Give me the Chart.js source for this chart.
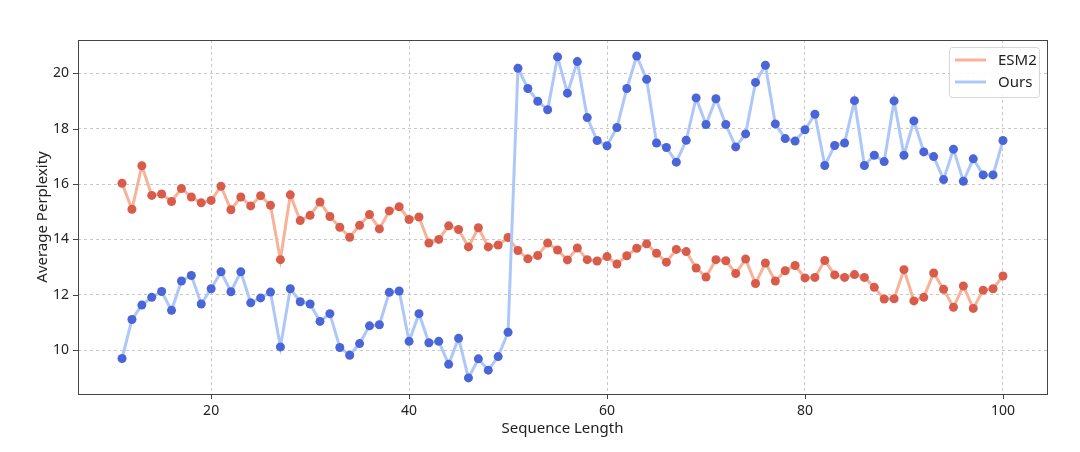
<!DOCTYPE html>
<html>
<head>
<meta charset="utf-8">
<script src="https://cdn.jsdelivr.net/npm/chart.js@4/dist/chart.umd.min.js"></script>
<style>
  html, body { margin: 0; padding: 0; background: #fff; }
  #wrap { width: 1080px; height: 452px; }
</style>
</head>
<body>
<div id="wrap"><canvas id="ppl"></canvas></div>
<script>
// sequence lengths 11..100
const seqLengths = [
  11, 12, 13, 14, 15, 16, 17, 18, 19, 20, 21, 22, 23, 24, 25, 26, 27, 28, 29, 30,
  31, 32, 33, 34, 35, 36, 37, 38, 39, 40, 41, 42, 43, 44, 45, 46, 47, 48, 49, 50,
  51, 52, 53, 54, 55, 56, 57, 58, 59, 60, 61, 62, 63, 64, 65, 66, 67, 68, 69, 70,
  71, 72, 73, 74, 75, 76, 77, 78, 79, 80, 81, 82, 83, 84, 85, 86, 87, 88, 89, 90,
  91, 92, 93, 94, 95, 96, 97, 98, 99, 100
];

const esm2Values = [
  16.03, 15.09, 16.66, 15.59, 15.64, 15.37, 15.84, 15.53, 15.32, 15.41,
  15.92, 15.07, 15.53, 15.21, 15.58, 15.23, 13.27, 15.61, 14.68, 14.87,
  15.35, 14.83, 14.44, 14.08, 14.51, 14.90, 14.38, 15.03, 15.18, 14.72,
  14.81, 13.87, 14.00, 14.49, 14.36, 13.73, 14.42, 13.73, 13.80, 14.07,
  13.60, 13.30, 13.42, 13.87, 13.62, 13.26, 13.69, 13.27, 13.22, 13.38,
  13.11, 13.41, 13.68, 13.84, 13.50, 13.18, 13.64, 13.56, 12.97, 12.64,
  13.27, 13.23, 12.77, 13.29, 12.41, 13.15, 12.50, 12.87, 13.06, 12.61,
  12.63, 13.24, 12.72, 12.63, 12.73, 12.63, 12.27, 11.85, 11.86, 12.91,
  11.78, 11.91, 12.79, 12.20, 11.55, 12.32, 11.51, 12.17, 12.22, 12.68
];

const oursValues = [
  9.70, 11.11, 11.63, 11.91, 12.12, 11.44, 12.50, 12.70, 11.67, 12.22,
  12.83, 12.11, 12.83, 11.71, 11.89, 12.10, 10.12, 12.22, 11.75, 11.67,
  11.04, 11.32, 10.10, 9.82, 10.24, 10.88, 10.92, 12.09, 12.14, 10.32,
  11.32, 10.27, 10.32, 9.49, 10.43, 9.00, 9.69, 9.28, 9.77, 10.65,
  20.18, 19.45, 18.99, 18.68, 20.59, 19.28, 20.42, 18.40, 17.57, 17.38,
  18.04, 19.45, 20.62, 19.78, 17.48, 17.32, 16.79, 17.58, 19.11, 18.15,
  19.08, 18.15, 17.34, 17.81, 19.67, 20.29, 18.17, 17.64, 17.55, 17.96,
  18.52, 16.67, 17.39, 17.48, 19.01, 16.67, 17.04, 16.81, 19.00, 17.04,
  18.28, 17.16, 16.99, 16.16, 17.26, 16.10, 16.91, 16.33, 16.33, 17.57
];

const xTicks = [20, 40, 60, 80, 100];
const yTicks = [10, 12, 14, 16, 18, 20];

const FONT = "'Noto Sans', 'Open Sans', sans-serif";

function toPoints(xs, ys) {
  return xs.map((x, i) => ({ x: x, y: ys[i] }));
}

// frame around plot + outward tick marks (matplotlib look)
const framePlugin = {
  id: 'frame',
  afterDraw(chart) {
    const ctx = chart.ctx;
    const a = chart.chartArea;
    const xs = chart.scales.x, ys = chart.scales.y;
    ctx.save();
    ctx.strokeStyle = '#444';
    ctx.lineWidth = 1;
    ctx.strokeRect(a.left + 0.5, a.top + 0.5, a.right - a.left, a.bottom - a.top);
    ctx.beginPath();
    xTicks.forEach(t => {
      const px = Math.round(xs.getPixelForValue(t)) + 0.5;
      ctx.moveTo(px, a.bottom);
      ctx.lineTo(px, a.bottom + 5);
    });
    yTicks.forEach(t => {
      const py = Math.round(ys.getPixelForValue(t)) + 0.5;
      ctx.moveTo(a.left, py);
      ctx.lineTo(a.left - 5, py);
    });
    ctx.stroke();

    // legend box in upper right
    const items = chart.data.datasets.map(d => ({ label: d.label, color: d.borderColor }));
    const bw = 90, bh = 50;
    const bx = a.right - bw - 8, by = a.top + 7;
    ctx.fillStyle = 'rgba(255,255,255,0.85)';
    ctx.strokeStyle = '#d6d6d6';
    ctx.beginPath();
    ctx.roundRect(bx + 0.5, by + 0.5, bw, bh, 3);
    ctx.fill();
    ctx.stroke();
    ctx.font = '15px ' + FONT;
    ctx.textBaseline = 'middle';
    items.forEach((it, i) => {
      const cy = by + 13 + i * 22;
      ctx.strokeStyle = it.color;
      ctx.lineWidth = 3;
      ctx.beginPath();
      ctx.moveTo(bx + 6, cy);
      ctx.lineTo(bx + 37, cy);
      ctx.stroke();
      ctx.fillStyle = '#222';
      ctx.fillText(it.label, bx + 49, cy + 1);
    });
    ctx.restore();
  }
};

const ctx = document.getElementById('ppl').getContext('2d');
const pplChart = new Chart(ctx, {
  type: 'line',
  data: {
    datasets: [{
      label: 'ESM2',
      data: toPoints(seqLengths, esm2Values),
      borderColor: '#f6b399',
      backgroundColor: '#d95c4b',
      pointBackgroundColor: '#d95c4b',
      pointBorderColor: '#d95c4b',
      pointRadius: 4.5,
      pointBorderWidth: 0,
      borderWidth: 3,
      tension: 0,
      order: 2
    }, {
      label: 'Ours',
      data: toPoints(seqLengths, oursValues),
      borderColor: '#adc8f8',
      backgroundColor: '#4a65d8',
      pointBackgroundColor: '#4a65d8',
      pointBorderColor: '#4a65d8',
      pointRadius: 4.5,
      pointBorderWidth: 0,
      borderWidth: 3,
      tension: 0,
      order: 1
    }]
  },
  options: {
    responsive: true,
    maintainAspectRatio: false,
    animation: false,
    layout: { padding: { top: 40, right: 33, left: 34, bottom: 14 } },
    plugins: {
      legend: { display: false },
      tooltip: { enabled: false }
    },
    scales: {
      x: {
        type: 'linear',
        min: 6.55,
        max: 104.45,
        afterBuildTicks(scale) { scale.ticks = xTicks.map(v => ({ value: v })); },
        afterFit(scale) { scale.height = 44; },
        grid: {
          color: '#c8c8c8',
          drawTicks: false
        },
        border: { display: false, dash: [3, 3] },
        ticks: {
          color: '#222',
          padding: 9,
          font: { family: FONT, size: 14 },
          maxRotation: 0
        },
        title: {
          display: true,
          text: 'Sequence Length',
          color: '#222',
          font: { family: FONT, size: 15 },
          padding: { top: 1, bottom: 0 }
        }
      },
      y: {
        min: 8.42,
        max: 21.2,
        afterBuildTicks(scale) { scale.ticks = yTicks.map(v => ({ value: v })); },
        afterFit(scale) { scale.width = 44; },
        grid: {
          color: '#c8c8c8',
          drawTicks: false
        },
        border: { display: false, dash: [3, 3] },
        ticks: {
          color: '#222',
          padding: 9,
          font: { family: FONT, size: 14 }
        },
        title: {
          display: true,
          text: 'Average Perplexity',
          color: '#222',
          font: { family: FONT, size: 15 },
          padding: { top: 0, bottom: 4 }
        }
      }
    }
  },
  plugins: [framePlugin]
});
</script>
</body>
</html>
